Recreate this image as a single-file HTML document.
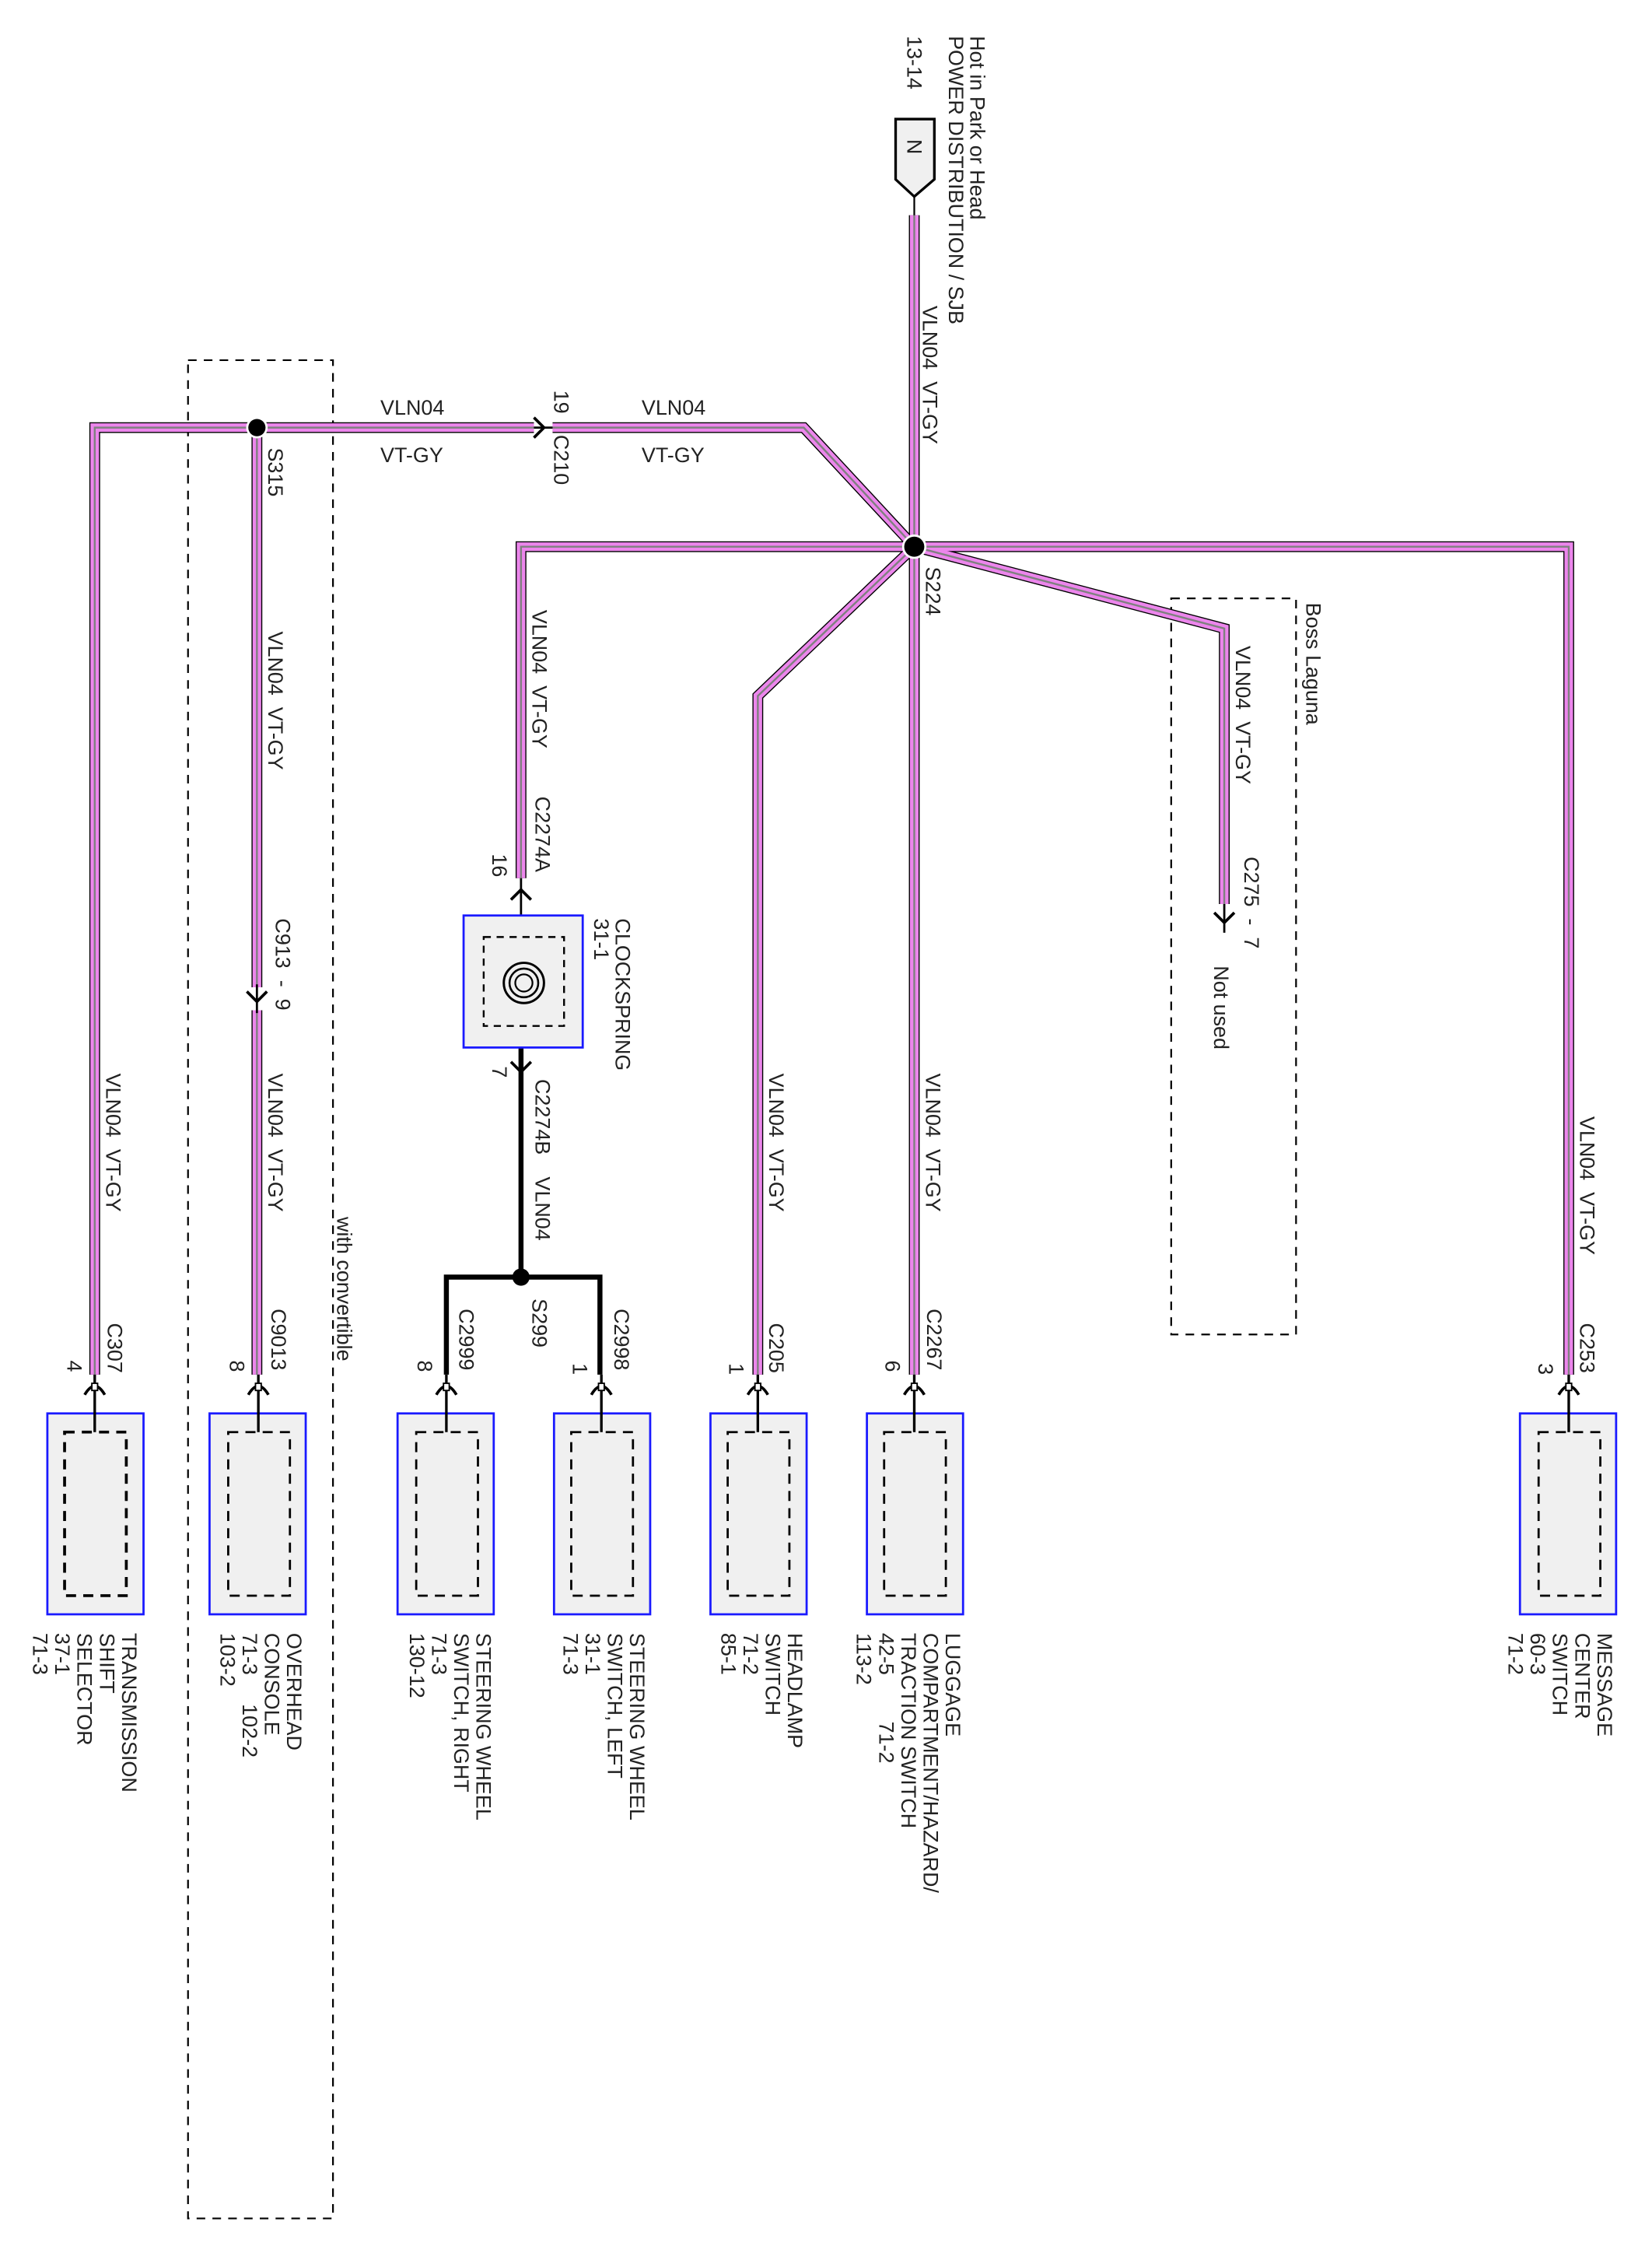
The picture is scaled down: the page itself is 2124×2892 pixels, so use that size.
<!DOCTYPE html>
<html><head><meta charset="utf-8"><style>
html,body{margin:0;padding:0;background:#fff;}
svg{display:block;}
text{font-family:"Liberation Sans",Arial,sans-serif;font-size:14.6px;fill:#222;}
</style></head><body>
<svg width="2124" height="2892" viewBox="0 0 1151 1568" preserveAspectRatio="none" xmlns="http://www.w3.org/2000/svg">
<defs>
<g id="fc"><path d="M-7,6 Q0,-6 7,6" fill="none" stroke="#000" stroke-width="2"/><rect x="-2" y="-2" width="4" height="5" fill="#fff" stroke="#000" stroke-width="1"/></g>
</defs>
<rect x="131" y="251" width="101" height="1295" fill="none" stroke="#000" stroke-width="1.2" stroke-dasharray="6,5"/>
<rect x="816" y="417" width="87" height="513" fill="none" stroke="#000" stroke-width="1.2" stroke-dasharray="6,5"/>

<g fill="none" stroke-linejoin="miter">
<g stroke="#000" stroke-width="7.5">
<polyline points="637,150 637,381"/>
<polyline points="637,381 560,298 385,298"/>
<polyline points="372,298 66,298 66,958"/>
<polyline points="179,298 179,688"/>
<polyline points="179,704 179,958"/>
<polyline points="637,381 363,381 363,612"/>
<polyline points="637,381 528,485 528,958"/>
<polyline points="637,381 637,958"/>
<polyline points="637,381 853,438 853,630"/>
<polyline points="637,381 1093,381 1093,958"/>
</g>
<g stroke="#ec86ec" stroke-width="6">
<polyline points="637,150 637,381"/>
<polyline points="637,381 560,298 385,298"/>
<polyline points="372,298 66,298 66,958"/>
<polyline points="179,298 179,688"/>
<polyline points="179,704 179,958"/>
<polyline points="637,381 363,381 363,612"/>
<polyline points="637,381 528,485 528,958"/>
<polyline points="637,381 637,958"/>
<polyline points="637,381 853,438 853,630"/>
<polyline points="637,381 1093,381 1093,958"/>
</g>
<g stroke="#808080" stroke-width="1.3">
<polyline points="637,150 637,381"/>
<polyline points="637,381 560,298 385,298"/>
<polyline points="372,298 66,298 66,958"/>
<polyline points="179,298 179,688"/>
<polyline points="179,704 179,958"/>
<polyline points="637,381 363,381 363,612"/>
<polyline points="637,381 528,485 528,958"/>
<polyline points="637,381 637,958"/>
<polyline points="637,381 853,438 853,630"/>
<polyline points="637,381 1093,381 1093,958"/>
</g>
</g>

<g stroke="#000" fill="none">
<line x1="637" y1="137" x2="637" y2="150" stroke-width="1.2"/>
<line x1="363" y1="612" x2="363" y2="638" stroke-width="1.5"/>
<line x1="363" y1="730" x2="363" y2="890" stroke-width="3.5"/>
<polyline points="311,958 311,890 418,890 418,958" stroke-width="3.5"/>
<line x1="853" y1="630" x2="853" y2="650" stroke-width="1.5"/>
<line x1="179" y1="686" x2="179" y2="706" stroke-width="1.5"/>
<line x1="372" y1="298" x2="385" y2="298" stroke-width="1.5"/>
</g>

<path d="M624,83 H651 V125 L637,137 L624,125 Z" fill="#f0f0f0" stroke="#000" stroke-width="1.8"/>
<text transform="translate(632,97) rotate(90)">N</text>

<path d="M372,291 L379,298 L372,305" fill="none" stroke="#000" stroke-width="2"/>
<path d="M172,691 L179,698 L186,691" fill="none" stroke="#000" stroke-width="2"/>
<path d="M356,627 L363,620 L370,627" fill="none" stroke="#000" stroke-width="2"/>
<path d="M356,740 L363,747 L370,740" fill="none" stroke="#000" stroke-width="2"/>
<path d="M846,636 L853,643 L860,636" fill="none" stroke="#000" stroke-width="2"/>

<circle cx="179" cy="298" r="7.5" fill="#fff"/><circle cx="179" cy="298" r="6" fill="#000"/>
<circle cx="637" cy="381" r="8.5" fill="#fff"/><circle cx="637" cy="381" r="7" fill="#000"/>
<circle cx="363" cy="890" r="6" fill="#000"/>

<rect x="323" y="638" width="83" height="92" fill="#f0f0f0" stroke="#1a1aff" stroke-width="1.5"/>
<rect x="337" y="653" width="56" height="62" fill="none" stroke="#000" stroke-width="1.3" stroke-dasharray="5,4"/>
<circle cx="365" cy="685" r="14" fill="none" stroke="#000" stroke-width="1.6"/>
<circle cx="365" cy="685" r="10" fill="none" stroke="#000" stroke-width="1.4"/>
<circle cx="365" cy="685" r="6" fill="none" stroke="#000" stroke-width="1.2"/>

<g>
<g transform="translate(66,0)"><rect x="-33" y="985" width="67" height="140" fill="#f0f0f0" stroke="#1a1aff" stroke-width="1.5"/><rect x="-21" y="998" width="43" height="114" fill="none" stroke="#000" stroke-width="2" stroke-dasharray="7,5"/><line x1="0" y1="958" x2="0" y2="998" stroke="#000" stroke-width="1.8"/><use href="#fc" y="966"/></g>
<g transform="translate(180,0)"><rect x="-34" y="985" width="67" height="140" fill="#f0f0f0" stroke="#1a1aff" stroke-width="1.5"/><rect x="-21" y="998" width="43" height="114" fill="none" stroke="#000" stroke-width="1.5" stroke-dasharray="7,5"/><line x1="0" y1="958" x2="0" y2="998" stroke="#000" stroke-width="1.8"/><use href="#fc" y="966"/></g>
<g transform="translate(311,0)"><rect x="-34" y="985" width="67" height="140" fill="#f0f0f0" stroke="#1a1aff" stroke-width="1.5"/><rect x="-21" y="998" width="43" height="114" fill="none" stroke="#000" stroke-width="1.5" stroke-dasharray="7,5"/><line x1="0" y1="958" x2="0" y2="998" stroke="#000" stroke-width="1.8"/><use href="#fc" y="966"/></g>
<g transform="translate(419,0)"><rect x="-33" y="985" width="67" height="140" fill="#f0f0f0" stroke="#1a1aff" stroke-width="1.5"/><rect x="-21" y="998" width="43" height="114" fill="none" stroke="#000" stroke-width="1.5" stroke-dasharray="7,5"/><line x1="0" y1="958" x2="0" y2="998" stroke="#000" stroke-width="1.8"/><use href="#fc" y="966"/></g>
<g transform="translate(528,0)"><rect x="-33" y="985" width="67" height="140" fill="#f0f0f0" stroke="#1a1aff" stroke-width="1.5"/><rect x="-21" y="998" width="43" height="114" fill="none" stroke="#000" stroke-width="1.5" stroke-dasharray="7,5"/><line x1="0" y1="958" x2="0" y2="998" stroke="#000" stroke-width="1.8"/><use href="#fc" y="966"/></g>
<g transform="translate(637,0)"><rect x="-33" y="985" width="67" height="140" fill="#f0f0f0" stroke="#1a1aff" stroke-width="1.5"/><rect x="-21" y="998" width="43" height="114" fill="none" stroke="#000" stroke-width="1.5" stroke-dasharray="7,5"/><line x1="0" y1="958" x2="0" y2="998" stroke="#000" stroke-width="1.8"/><use href="#fc" y="966"/></g>
<g transform="translate(1093,0)"><rect x="-34" y="985" width="67" height="140" fill="#f0f0f0" stroke="#1a1aff" stroke-width="1.5"/><rect x="-21" y="998" width="43" height="114" fill="none" stroke="#000" stroke-width="1.5" stroke-dasharray="7,5"/><line x1="0" y1="958" x2="0" y2="998" stroke="#000" stroke-width="1.8"/><use href="#fc" y="966"/></g>
</g>

<g>
<text transform="translate(676,25) rotate(90)"><tspan x="0" y="0">Hot in Park or Head</tspan><tspan x="0" dy="15">POWER DISTRIBUTION / SJB</tspan></text>
<text transform="translate(632,25) rotate(90)">13-14</text>
<text transform="translate(643,213) rotate(90)" xml:space="preserve">VLN04  VT-GY</text>
<text transform="translate(645,395) rotate(90)">S224</text>

<text x="265" y="289">VLN04</text>
<text x="265" y="322">VT-GY</text>
<text x="447" y="289">VLN04</text>
<text x="447" y="322">VT-GY</text>
<text transform="translate(386,272) rotate(90)">19</text>
<text transform="translate(386,303) rotate(90)">C210</text>
<text transform="translate(187,312) rotate(90)">S315</text>

<text transform="translate(187,440) rotate(90)" xml:space="preserve">VLN04  VT-GY</text>
<text transform="translate(192,640) rotate(90)" xml:space="preserve">C913  -  9</text>
<text transform="translate(187,748) rotate(90)" xml:space="preserve">VLN04  VT-GY</text>
<text transform="translate(235,848) rotate(90)">with convertible</text>
<text transform="translate(74,748) rotate(90)" xml:space="preserve">VLN04  VT-GY</text>

<text transform="translate(371,425) rotate(90)" xml:space="preserve">VLN04  VT-GY</text>
<text transform="translate(373,555) rotate(90)">C2274A</text>
<text transform="translate(343,595) rotate(90)">16</text>
<text transform="translate(429,640) rotate(90)"><tspan x="0" y="0">CLOCKSPRING</tspan><tspan x="0" dy="15">31-1</tspan></text>
<text transform="translate(343,743) rotate(90)">7</text>
<text transform="translate(373,752) rotate(90)">C2274B</text>
<text transform="translate(373,820) rotate(90)">VLN04</text>
<text transform="translate(371,905) rotate(90)">S299</text>

<text transform="translate(536,748) rotate(90)" xml:space="preserve">VLN04  VT-GY</text>
<text transform="translate(645,748) rotate(90)" xml:space="preserve">VLN04  VT-GY</text>
<text transform="translate(1101,778) rotate(90)" xml:space="preserve">VLN04  VT-GY</text>

<text transform="translate(910,420) rotate(90)">Boss Laguna</text>
<text transform="translate(861,450) rotate(90)" xml:space="preserve">VLN04  VT-GY</text>
<text transform="translate(867,597) rotate(90)" xml:space="preserve">C275  -  7</text>
<text transform="translate(846,673) rotate(90)">Not used</text>

<text transform="translate(75,922) rotate(90)">C307</text>
<text transform="translate(47,948) rotate(90)">4</text>
<text transform="translate(189,912) rotate(90)">C9013</text>
<text transform="translate(160,948) rotate(90)">8</text>
<text transform="translate(320,912) rotate(90)">C2999</text>
<text transform="translate(291,948) rotate(90)">8</text>
<text transform="translate(428,912) rotate(90)">C2998</text>
<text transform="translate(399,950) rotate(90)">1</text>
<text transform="translate(536,922) rotate(90)">C205</text>
<text transform="translate(508,950) rotate(90)">1</text>
<text transform="translate(646,912) rotate(90)">C2267</text>
<text transform="translate(617,948) rotate(90)">6</text>
<text transform="translate(1101,922) rotate(90)">C253</text>
<text transform="translate(1072,950) rotate(90)">3</text>

<text transform="translate(85,1138) rotate(90)"><tspan x="0" y="0">TRANSMISSION</tspan><tspan x="0" dy="15.5">SHIFT</tspan><tspan x="0" dy="15.5">SELECTOR</tspan><tspan x="0" dy="15.5">37-1</tspan><tspan x="0" dy="15.5">71-3</tspan></text>
<text transform="translate(200,1138) rotate(90)" xml:space="preserve"><tspan x="0" y="0">OVERHEAD</tspan><tspan x="0" dy="15.5">CONSOLE</tspan><tspan x="0" dy="15.5">71-3     102-2</tspan><tspan x="0" dy="15.5">103-2</tspan></text>
<text transform="translate(332,1138) rotate(90)"><tspan x="0" y="0">STEERING WHEEL</tspan><tspan x="0" dy="15.5">SWITCH, RIGHT</tspan><tspan x="0" dy="15.5">71-3</tspan><tspan x="0" dy="15.5">130-12</tspan></text>
<text transform="translate(439,1138) rotate(90)"><tspan x="0" y="0">STEERING WHEEL</tspan><tspan x="0" dy="15.5">SWITCH, LEFT</tspan><tspan x="0" dy="15.5">31-1</tspan><tspan x="0" dy="15.5">71-3</tspan></text>
<text transform="translate(549,1138) rotate(90)"><tspan x="0" y="0">HEADLAMP</tspan><tspan x="0" dy="15.5">SWITCH</tspan><tspan x="0" dy="15.5">71-2</tspan><tspan x="0" dy="15.5">85-1</tspan></text>
<text transform="translate(659,1138) rotate(90)" xml:space="preserve"><tspan x="0" y="0">LUGGAGE</tspan><tspan x="0" dy="15.5">COMPARTMENT/HAZARD/</tspan><tspan x="0" dy="15.5">TRACTION SWITCH</tspan><tspan x="0" dy="15.5">42-5        71-2</tspan><tspan x="0" dy="15.5">113-2</tspan></text>
<text transform="translate(1113,1138) rotate(90)"><tspan x="0" y="0">MESSAGE</tspan><tspan x="0" dy="15.5">CENTER</tspan><tspan x="0" dy="15.5">SWITCH</tspan><tspan x="0" dy="15.5">60-3</tspan><tspan x="0" dy="15.5">71-2</tspan></text>
</g>
</svg>
</body></html>
